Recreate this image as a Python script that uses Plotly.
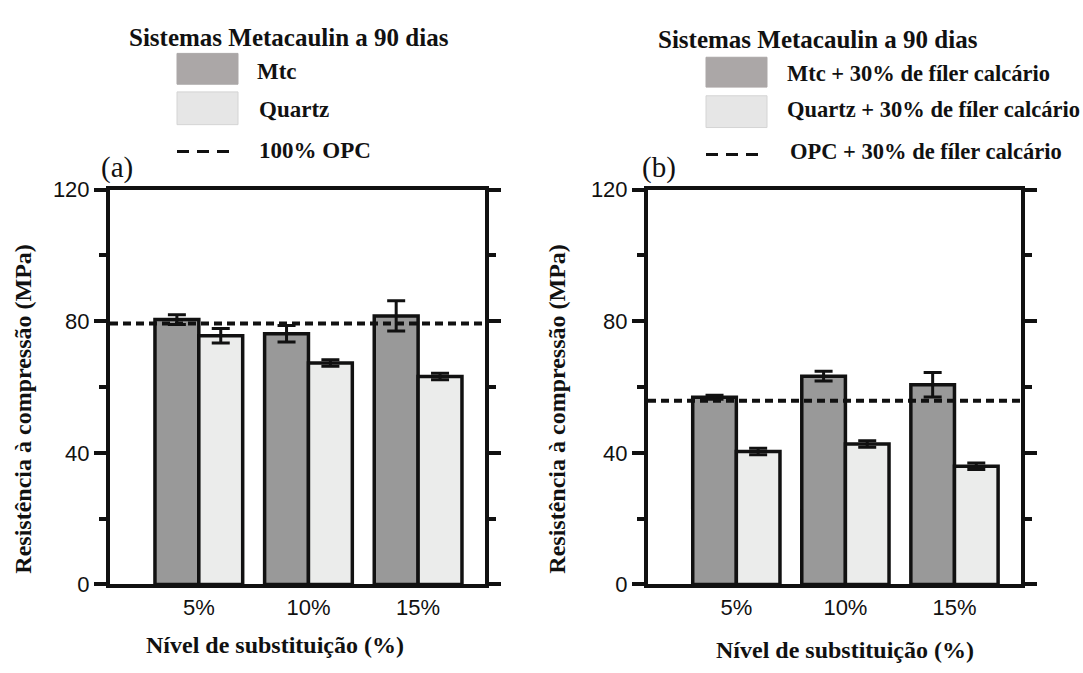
import plotly.graph_objects as go

# ---------------- data ----------------
categories = ["5%", "10%", "15%"]

mtc_a = [80.5, 76.2, 81.6]
mtc_a_err = [1.5, 2.5, 4.6]
quartz_a = [75.6, 67.3, 63.2]
quartz_a_err = [2.2, 1.0, 1.0]
opc_a = 79.3

mtc_b = [56.9, 63.3, 60.7]
mtc_b_err = [0.6, 1.5, 3.7]
quartz_b = [40.4, 42.7, 35.9]
quartz_b_err = [1.0, 1.0, 1.0]
opc_b = 55.8

y_ticks = [0, 40, 80, 120]

legend_header = "Sistemas Metacaulin a 90 dias"
legend_a = ["Mtc", "Quartz", "100% OPC"]
legend_b = ["Mtc + 30% de fíler calcário", "Quartz + 30% de fíler calcário",
            "OPC + 30% de fíler calcário"]
y_title = "Resistência à compressão (MPa)"
x_title = "Nível de substituição (%)"

# ---------------- style ----------------
W, H = 1083, 673
SERIF = "Liberation Serif, Times New Roman, serif"
SANS = "Liberation Sans, Arial, sans-serif"
MTC_FILL = "#999999"
QTZ_FILL = "#ebeceb"
MTC_SW = "#aba7a7"
QTZ_SW = "#e6e6e6"


def px(x):
    return x / W


def py(y):
    return 1 - y / H


fig = go.Figure()

panels = [
    ("x", "y", mtc_a, mtc_a_err, quartz_a, quartz_a_err),
    ("x2", "y2", mtc_b, mtc_b_err, quartz_b, quartz_b_err),
]
for xa, ya, m, me, q, qe in panels:
    fig.add_trace(go.Bar(
        x=categories, y=m, xaxis=xa, yaxis=ya, offsetgroup="m",
        marker=dict(color=MTC_FILL, line=dict(color="#111111", width=3.5)),
        error_y=dict(type="data", array=me, color="#111111", thickness=3, width=9),
        showlegend=False))
    fig.add_trace(go.Bar(
        x=categories, y=q, xaxis=xa, yaxis=ya, offsetgroup="q",
        marker=dict(color=QTZ_FILL, line=dict(color="#111111", width=3.5)),
        error_y=dict(type="data", array=qe, color="#111111", thickness=3, width=9),
        showlegend=False))

ybot, ytop = 594.5, 184.5
dom_y = [py(ybot), py(ytop)]

axis_common_x = dict(
    type="category", range=[-0.81, 2.61], showline=True, linewidth=4,
    linecolor="#111111", mirror=True, ticks="", showgrid=False, zeroline=False,
    tickfont=dict(family=SANS, size=22, color="#111111"), fixedrange=True)
axis_common_y = dict(
    range=[0, 120], tickvals=y_ticks, showline=True, linewidth=4,
    linecolor="#111111", mirror="ticks", ticks="outside", ticklen=12,
    tickwidth=4, tickcolor="#111111", showgrid=False, zeroline=False,
    minor=dict(dtick=20, ticks="outside", ticklen=7, tickwidth=4,
               tickcolor="#111111", showgrid=False),
    tickfont=dict(family=SANS, size=22, color="#111111"), fixedrange=True)

fig.update_layout(
    width=W, height=H,
    margin=dict(l=0, r=0, t=0, b=0),
    paper_bgcolor="white", plot_bgcolor="white",
    barmode="group", bargap=0.2, bargroupgap=0.0,
    xaxis=dict(domain=[px(110), px(485)], anchor="y", **axis_common_x),
    yaxis=dict(domain=dom_y, anchor="x", **axis_common_y),
    xaxis2=dict(domain=[px(648), px(1021)], anchor="y2", **axis_common_x),
    yaxis2=dict(domain=dom_y, anchor="x2", **axis_common_y),
)

shapes = []
for xr, yr, val in [("x domain", "y", opc_a), ("x2 domain", "y2", opc_b)]:
    shapes.append(dict(type="line", xref=xr, yref=yr, x0=0, x1=1, y0=val, y1=val,
                       line=dict(color="#111111", width=4, dash="8px,5px"),
                       layer="above"))

annotations = []


def text(x, y, s, size, xanchor="left", family=SERIF, bold=True, angle=0, color="#111111"):
    annotations.append(dict(
        x=px(x), y=py(y), xref="paper", yref="paper",
        text=f"<b>{s}</b>" if bold else s, showarrow=False,
        xanchor=xanchor, yanchor="middle", textangle=angle,
        font=dict(family=family, size=size, color=color)))


def swatch(x0, x1, y0, y1, fill, border):
    shapes.append(dict(type="rect", xref="paper", yref="paper",
                       x0=px(x0), x1=px(x1), y0=py(y1), y1=py(y0),
                       fillcolor=fill, line=dict(color=border, width=1)))


def dash(x0, x1, y):
    shapes.append(dict(type="line", xref="paper", yref="paper",
                       x0=px(x0), x1=px(x1), y0=py(y), y1=py(y),
                       line=dict(color="#111111", width=3, dash="12px,8px")))


# legend (a)
text(289, 26, legend_header, 25, xanchor="center")
swatch(177, 238, 43, 75, MTC_SW, MTC_SW)
swatch(177, 238, 83, 117, QTZ_SW, "#d4d4d4")
dash(177, 232, 145)
text(255, 62, legend_a[0], 23)
text(257, 101, legend_a[1], 23)
text(257, 144, legend_a[2], 23)
text(99, 161, "(a)", 29, bold=False)

# legend (b)
text(818, 29, legend_header, 25, xanchor="center")
swatch(706, 767, 47, 78, MTC_SW, MTC_SW)
swatch(706, 767, 87, 120, QTZ_SW, "#d4d4d4")
dash(706, 759, 148)
text(785, 64, legend_b[0], 22.5)
text(785, 101, legend_b[1], 22.5)
text(788, 145, legend_b[2], 22.5)
text(640, 161, "(b)", 29, bold=False)

# axis titles
text(23, 413, y_title, 24, xanchor="center", angle=-90)
text(557, 413, y_title, 24, xanchor="center", angle=-90)
text(275, 657, x_title, 24, xanchor="center")
text(845, 663, x_title, 24, xanchor="center")

fig.update_layout(shapes=shapes, annotations=annotations)
fig.write_html("out.html")
